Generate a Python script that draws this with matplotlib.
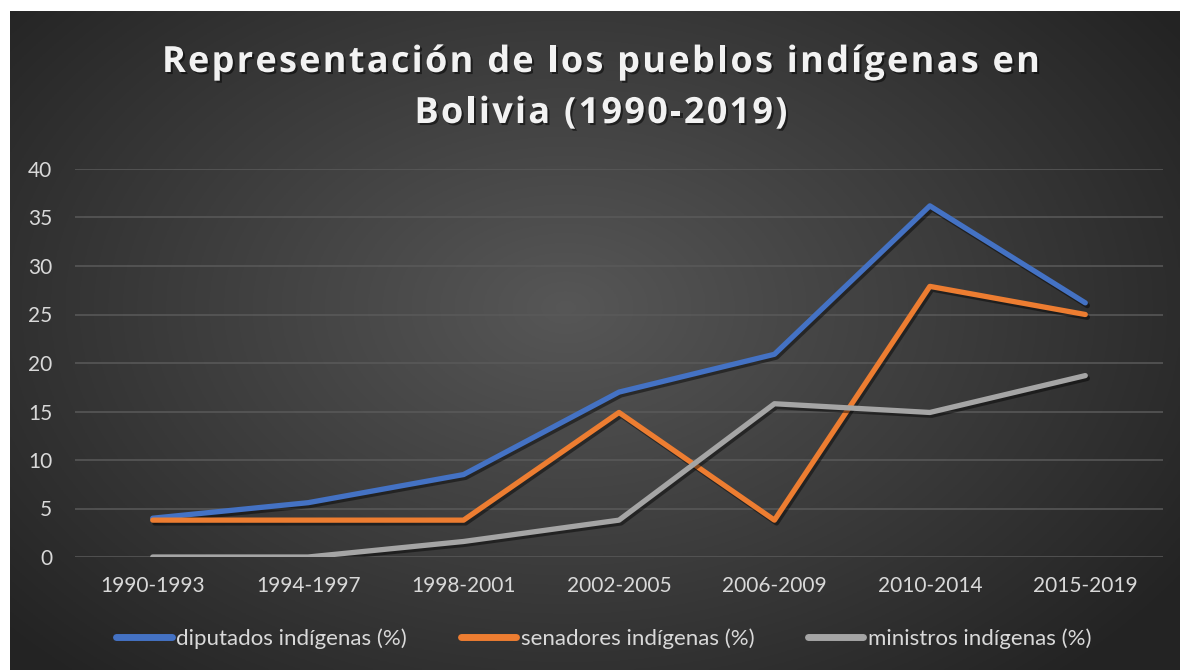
import matplotlib
matplotlib.use("agg")
import matplotlib.pyplot as plt
import matplotlib.patheffects as pe
from matplotlib.font_manager import FontProperties
import numpy as np

periodos = ["1990-1993", "1994-1997", "1998-2001", "2002-2005",
            "2006-2009", "2010-2014", "2015-2019"]
diputados = [4.0, 5.6, 8.5, 17.0, 20.9, 36.2, 26.2]
senadores = [3.8, 3.8, 3.8, 14.9, 3.8, 27.9, 25.0]
ministros = [0.0, 0.0, 1.6, 3.8, 15.8, 14.9, 18.7]

titulo = ["Representación de los pueblos indígenas en", "Bolivia (1990-2019)"]

plt.rcParams['font.family'] = ['Lato', 'DejaVu Sans']

W, H = 1180, 670
fig = plt.figure(figsize=(11.8, 6.7), dpi=100, facecolor='white')

# fondo oscuro con degradado radial
bg = fig.add_axes([10/W, 0, 1 - 10/W, 1 - 11/H])
yy, xx = np.mgrid[-1:1:300j, -1:1:500j]
r = np.sqrt(((xx + 0.05) / 1.05) ** 2 + ((yy + 0.1) / 1.25) ** 2)
shade = 0.34 - 0.20 * np.clip(r, 0, 1.2) / 1.2
bg.imshow(np.dstack([shade] * 3), aspect='auto', extent=[0, 1, 0, 1])
bg.axis('off')

ax = fig.add_axes([75/W, 113/H, 1088/W, 388/H])
ax.set_facecolor('none')

x = np.arange(len(periodos))
sombra = [pe.SimpleLineShadow(offset=(1.5, -2), shadow_color='black', alpha=0.45), pe.Normal()]
lw = 3.8
for vals, col, lab in [(diputados, '#4472c4', 'diputados indígenas (%)'),
                       (senadores, '#ed7d31', 'senadores indígenas (%)'),
                       (ministros, '#a5a5a5', 'ministros indígenas (%)')]:
    ax.plot(x, vals, color=col, lw=lw, solid_capstyle='round', solid_joinstyle='round',
            label=lab, path_effects=sombra, zorder=3)

ax.set_xlim(-0.5, len(periodos) - 0.5)
ax.set_ylim(0, 40)
ax.set_yticks(range(0, 41, 5))
ax.set_xticks(x)
ax.set_xticklabels(periodos)
ax.tick_params(length=0, colors='#d9d9d9', labelsize=15)
ax.tick_params(axis='y', pad=16.5)
ax.tick_params(axis='x', pad=14)
ax.grid(axis='y', color='#5a5a5a', lw=1.1)
ax.set_axisbelow(True)
for s in ax.spines.values():
    s.set_visible(False)

leg = ax.legend(loc='center', bbox_to_anchor=(0.486, -0.21), ncol=3, frameon=False,
                fontsize=16, handlelength=2.5, handletextpad=0.2, columnspacing=2.4,
                labelcolor='#d9d9d9')
for h in leg.get_lines():
    h.set_linewidth(5)
    h.set_solid_capstyle('round')
    h.set_path_effects([])

# titulo con espaciado entre letras
fig.canvas.draw()
rend = fig.canvas.get_renderer()
fp = FontProperties(family=['Open Sans', 'DejaVu Sans'], weight='bold', size=26)
def adv(ch):
    w1 = rend.get_text_width_height_descent('|' + ch + '|', fp, ismath=False)[0]
    w0 = rend.get_text_width_height_descent('||', fp, ismath=False)[0]
    return w1 - w0

tracking = None
for linea, base, ancho in [(titulo[0], 72, 878), (titulo[1], 123, None)]:
    advs = [adv(c) for c in linea]
    if tracking is None:
        tracking = (ancho - sum(advs)) / (len(linea) - 1)
    total = sum(advs) + tracking * (len(linea) - 1)
    x0 = 601 - total / 2
    for c, a in zip(linea, advs):
        if c != ' ':
            fig.text(x0 / W, 1 - base / H, c, ha='left', va='baseline', color='#f2f2f2',
                     fontproperties=fp,
                     path_effects=[pe.withSimplePatchShadow(offset=(1.5, -1.5),
                                                            shadow_rgbFace='black', alpha=0.5)])
        x0 += a + tracking

fig.savefig('out.png', dpi=100, facecolor='white')
